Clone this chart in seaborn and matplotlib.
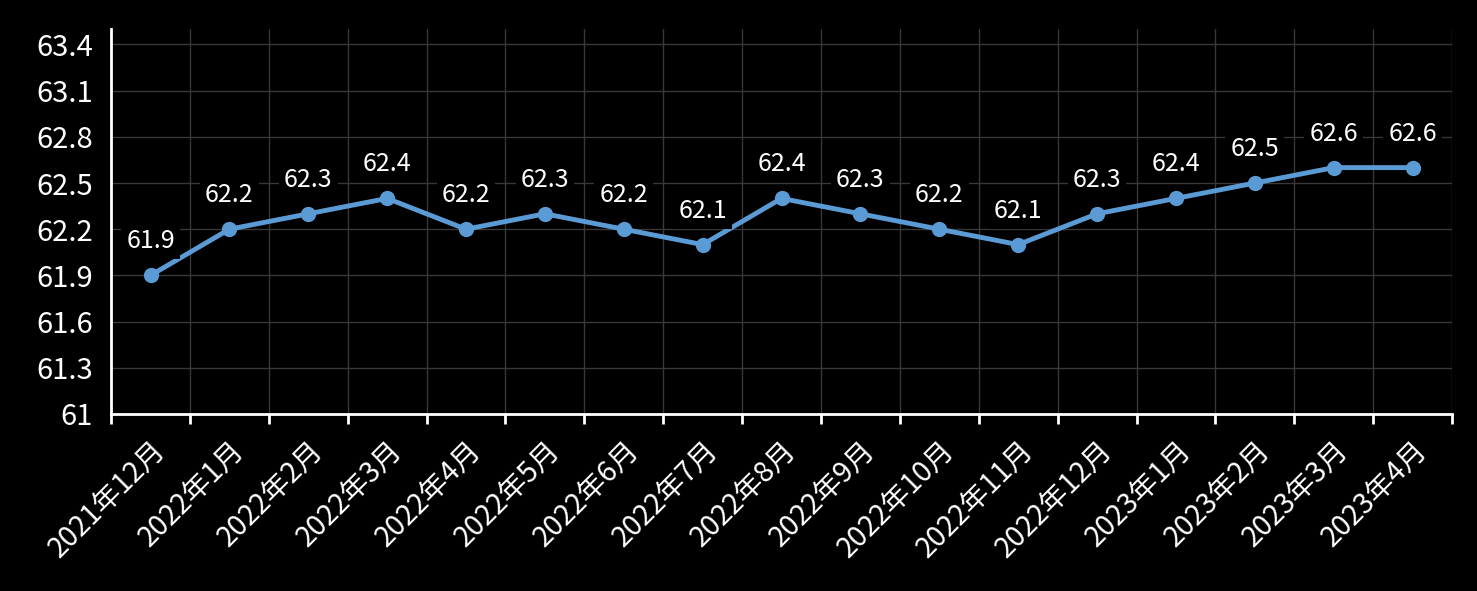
import matplotlib
matplotlib.use("Agg")
import matplotlib.pyplot as plt
import numpy as np
import seaborn as sns

# 数据
months = ["2021年12月", "2022年1月", "2022年2月", "2022年3月", "2022年4月", "2022年5月",
          "2022年6月", "2022年7月", "2022年8月", "2022年9月", "2022年10月", "2022年11月",
          "2022年12月", "2023年1月", "2023年2月", "2023年3月", "2023年4月"]
rate = [61.9, 62.2, 62.3, 62.4, 62.2, 62.3, 62.2, 62.1, 62.4, 62.3, 62.2, 62.1,
        62.3, 62.4, 62.5, 62.6, 62.6]
y_ticks = [61.0, 61.3, 61.6, 61.9, 62.2, 62.5, 62.8, 63.1, 63.4]
y_tick_labels = ["61", "61.3", "61.6", "61.9", "62.2", "62.5", "62.8", "63.1", "63.4"]

sns.set_theme(style="dark")
plt.rcParams["font.family"] = ["Noto Sans CJK SC", "DejaVu Sans"]

fig = plt.figure(figsize=(14.77, 5.91), dpi=100, facecolor="black")
ax = fig.add_axes([0.0752, 0.2995, 0.9079, 0.6514])
ax.set_facecolor("black")

pos = np.arange(len(months))
sns.lineplot(x=pos, y=rate, ax=ax, color="#5B9BD5", linewidth=3.5, marker="o",
             markersize=11, markeredgewidth=0, zorder=3)

# 数据标签（黑底遮住线和网格）
for x, v in zip(pos, rate):
    ax.annotate(f"{v}", (x, v), xytext=(0, 34), textcoords="offset pixels",
                ha="center", va="center", color="white", fontsize=18,
                bbox=dict(boxstyle="square,pad=0.2", fc="black", ec="none"), zorder=4)

# 坐标轴
ax.set_ylim(61, 63.5)
ax.set_yticks(y_ticks)
ax.set_yticklabels(y_tick_labels, fontsize=21, color="white")
ax.tick_params(axis="y", length=0, pad=13)

ax.set_xlim(-0.5, len(months) - 0.5)
ax.set_xticks(pos)
ax.set_xticklabels(months, fontsize=20.5, color="white", rotation=45,
                   ha="right", va="top", rotation_mode="anchor")
ax.set_xticks(np.arange(len(months) + 1) - 0.5, minor=True)
ax.tick_params(axis="x", which="major", length=0, pad=15)
ax.tick_params(axis="x", which="minor", length=7, width=2, color="white", bottom=True)

ax.grid(axis="y", which="major", color="#383838", linewidth=1)
ax.grid(axis="x", which="minor", color="#383838", linewidth=1)
ax.set_axisbelow(True)

for side in ["top", "right"]:
    ax.spines[side].set_visible(False)
for side in ["left", "bottom"]:
    ax.spines[side].set_visible(True)
    ax.spines[side].set_color("white")
    ax.spines[side].set_linewidth(2)

ax.set_xlabel("")
ax.set_ylabel("")

fig.savefig("out.png", dpi=100, facecolor="black")
